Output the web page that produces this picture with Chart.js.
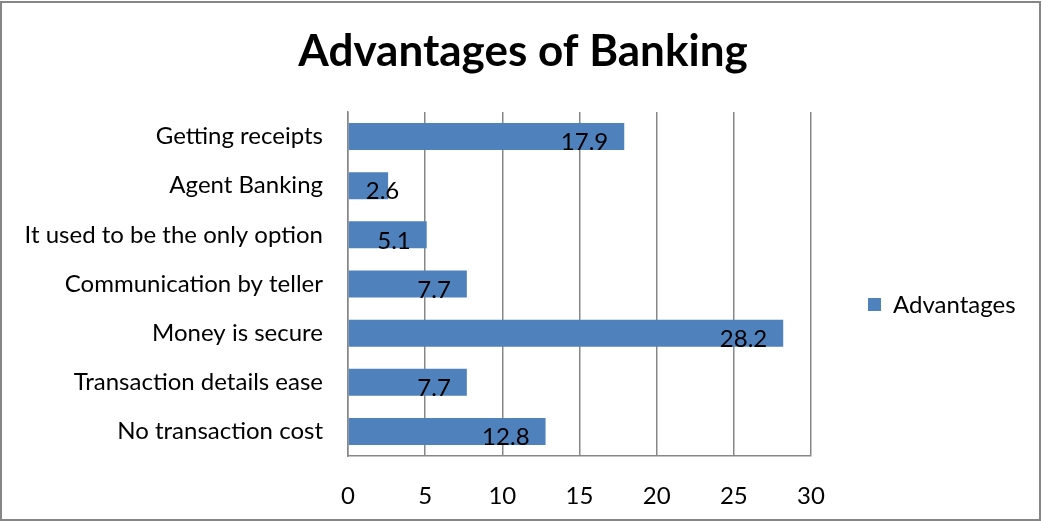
<!DOCTYPE html>
<html>
<head>
<meta charset="utf-8">
<script src="https://cdn.jsdelivr.net/npm/chart.js@4.4.0/dist/chart.umd.min.js"></script>
<style>
    body { margin: 0; background: #fff; }
    canvas { display: block; }
</style>
</head>
<body>
<canvas id="advantages" width="1041" height="521"></canvas>
<script>
"use strict";

const chartTitle = "Advantages of Banking";
const seriesName = "Advantages";
const categories = [
    "Getting receipts",
    "Agent Banking",
    "It used to be the only option",
    "Communication by teller",
    "Money is secure",
    "Transaction details ease",
    "No transaction cost",
];
const values = [17.9, 2.6, 5.1, 7.7, 28.2, 7.7, 12.8];
const xTicks = [0, 5, 10, 15, 20, 25, 30];

const fontFamily = "Lato, 'Open Sans', sans-serif";
const barColor = "#4F81BD";
const gridColor = "#878787";

/**
 * Marco gris alrededor del grafico
 */
const frame = {
    id: "frame",
    beforeDraw(chart) {
        const ctx = chart.ctx;
        ctx.save();
        ctx.fillStyle = "#fff";
        ctx.fillRect(0, 0, chart.width, chart.height);
        ctx.strokeStyle = "#868686";
        ctx.lineWidth = 2;
        ctx.strokeRect(1, 2, chart.width - 2, chart.height - 3);
        ctx.restore();
    },
};

/**
 * Titulo centrado sobre todo el lienzo
 */
const topTitle = {
    id: "topTitle",
    afterDraw(chart) {
        const ctx = chart.ctx;
        ctx.save();
        ctx.fillStyle = "#000";
        ctx.font = "bold 44px " + fontFamily;
        ctx.textAlign = "center";
        ctx.textBaseline = "alphabetic";
        ctx.fillText(chartTitle, 523, 66);
        ctx.restore();
    },
};

/**
 * Etiquetas de valor dentro del final de cada barra
 */
const valueLabels = {
    id: "valueLabels",
    afterDatasetsDraw(chart) {
        const ctx = chart.ctx;
        const meta = chart.getDatasetMeta(0);
        ctx.save();
        ctx.font = "24px " + fontFamily;
        ctx.fillStyle = "#000";
        ctx.textBaseline = "middle";
        ctx.textAlign = "left";
        meta.data.forEach((bar, i) => {
            const text = String(values[i]);
            const w = ctx.measureText(text).width;
            const left = Math.max(bar.x - 16 - w, bar.base + 17);
            ctx.fillText(text, left, bar.y + 6);
        });
        ctx.restore();
    },
};

/**
 * Leyenda a la derecha
 */
const sideLegend = {
    id: "sideLegend",
    afterDraw(chart) {
        const ctx = chart.ctx;
        ctx.save();
        ctx.fillStyle = barColor;
        ctx.fillRect(868, 298, 13, 13);
        ctx.fillStyle = "#000";
        ctx.font = "24px " + fontFamily;
        ctx.textBaseline = "middle";
        ctx.fillText(seriesName, 893, 305);
        ctx.restore();
    },
};

const ctxAdv = document.querySelector("#advantages");

new Chart(ctxAdv, {
    type: "bar",
    data: {
        labels: categories,
        datasets: [
            {
                label: seriesName,
                data: values,
                backgroundColor: barColor,
                categoryPercentage: 1,
                barPercentage: 0.55,
            },
        ],
    },
    options: {
        indexAxis: "y",
        responsive: false,
        animation: false,
        layout: {
            padding: { left: 0, right: 230, top: 112, bottom: 0 },
        },
        scales: {
            x: {
                min: 0,
                max: 30,
                afterBuildTicks: (scale) => {
                    scale.ticks = xTicks.map((v) => ({ value: v }));
                },
                afterFit: (scale) => {
                    scale.height = 65;
                },
                grid: {
                    color: gridColor,
                    lineWidth: 1.5,
                    drawTicks: false,
                },
                border: { color: gridColor, width: 1.5 },
                ticks: {
                    padding: 26,
                    color: "#000",
                    font: { family: fontFamily, size: 24 },
                },
            },
            y: {
                afterFit: (scale) => {
                    scale.width = 348;
                },
                grid: { display: false, drawTicks: false },
                border: { color: gridColor, width: 1.5 },
                ticks: {
                    padding: 25,
                    color: "#000",
                    font: { family: fontFamily, size: 24 },
                },
            },
        },
        plugins: {
            legend: { display: false },
            tooltip: { enabled: false },
            title: { display: false },
        },
    },
    plugins: [frame, valueLabels, sideLegend, topTitle],
});
</script>
</body>
</html>
